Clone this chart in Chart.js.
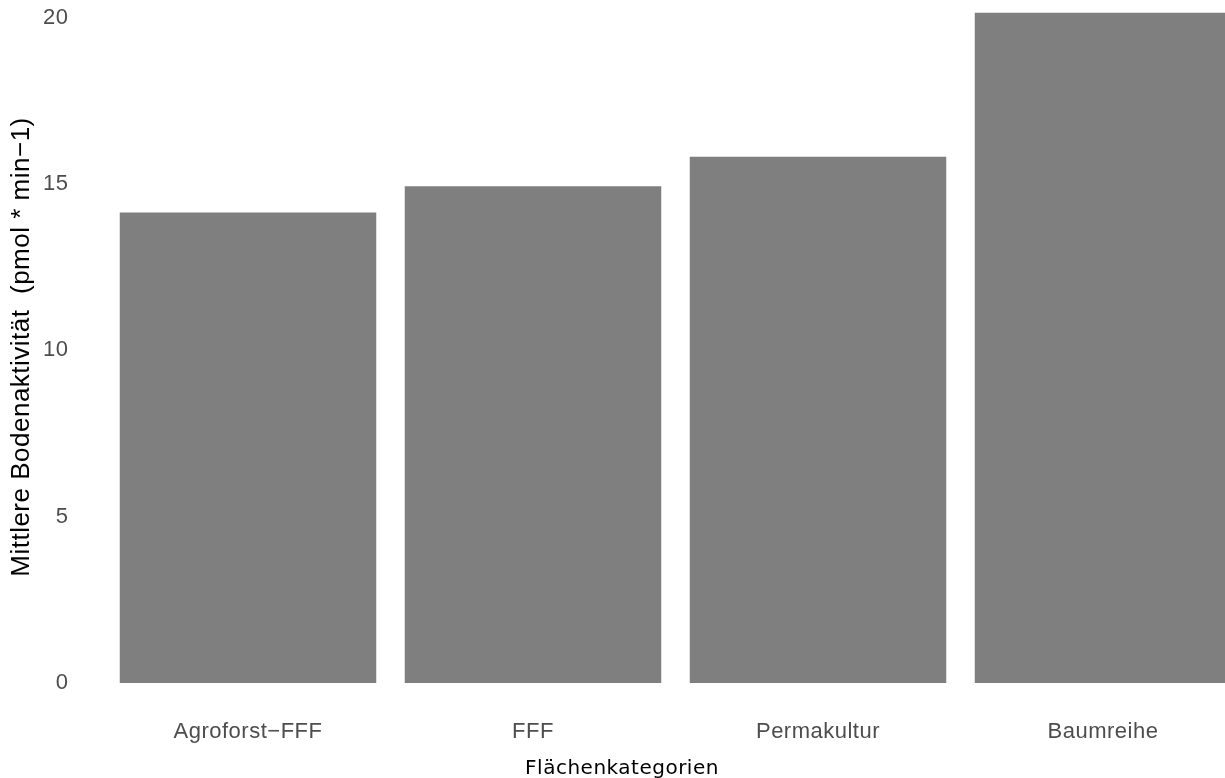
<!DOCTYPE html>
<html>
<head>
<meta charset="utf-8">
<script src="https://cdn.jsdelivr.net/npm/chart.js@4/dist/chart.umd.min.js"></script>
<style>
  html, body { margin: 0; padding: 0; background: #fff; overflow: hidden; }
  #wrap { width: 1225px; height: 778px; overflow: hidden; }
  #wrap div { width: 1250px; height: 778px; }
</style>
</head>
<body>
<div id="wrap"><div><canvas id="bodenChart"></canvas></div></div>
<script>
const categories = ["Agroforst\u2212FFF", "FFF", "Permakultur", "Baumreihe"];
const meanActivity = [14.14, 14.93, 15.82, 20.15];
const yTicks = [0, 5, 10, 15, 20];

const xTitle = "Flächenkategorien";
const yTitle = "Mittlere Bodenaktivität  (pmol * min\u22121)";

// etwas Laufweite wie im Original; x-Titel mittig über der Seite
const textPlugin = {
  id: "textPlugin",
  beforeDraw(chart) {
    chart.ctx.letterSpacing = "0.5px";
  },
  afterDraw(chart) {
    const ctx = chart.ctx;
    ctx.save();
    ctx.font = "20px 'DejaVu Sans'";
    ctx.fillStyle = "#000";
    ctx.textAlign = "center";
    ctx.textBaseline = "alphabetic";
    ctx.fillText(xTitle, 622, 774);
    ctx.restore();
  }
};

const ctx = document.getElementById("bodenChart").getContext("2d");

new Chart(ctx, {
  type: "bar",
  data: {
    labels: categories,
    datasets: [{
      data: meanActivity,
      backgroundColor: "#7f7f7f",
      barPercentage: 0.9,
      categoryPercentage: 1.0
    }]
  },
  options: {
    responsive: true,
    maintainAspectRatio: false,
    animation: false,
    layout: { padding: { top: 11, right: 4.5, left: 0, bottom: 0 } },
    plugins: {
      legend: { display: false },
      tooltip: { enabled: false }
    },
    scales: {
      x: {
        grid: { display: false, drawTicks: false },
        border: { display: false },
        ticks: {
          color: "#4d4d4d",
          font: { family: "'Liberation Sans', Arial, sans-serif", size: 22 },
          padding: 36,
          maxRotation: 0
        },
        afterFit(scale) { scale.height = 95; }
      },
      y: {
        min: 0,
        max: 20.2,
        grid: { display: false, drawTicks: false },
        border: { display: false },
        afterBuildTicks(scale) {
          scale.ticks = yTicks.map(v => ({ value: v }));
        },
        ticks: {
          color: "#4d4d4d",
          font: { family: "'Liberation Sans', Arial, sans-serif", size: 22 },
          padding: 37
        },
        title: {
          display: true,
          text: yTitle,
          color: "#000",
          font: { family: "'Liberation Sans', Arial, sans-serif", size: 26 },
          padding: { top: 6, bottom: 0 }
        },
        afterFit(scale) {
          scale.width = 105.5;
          scale.paddingTop = 0;
          scale.paddingBottom = 0;
        }
      }
    }
  },
  plugins: [textPlugin]
});
</script>
</body>
</html>
